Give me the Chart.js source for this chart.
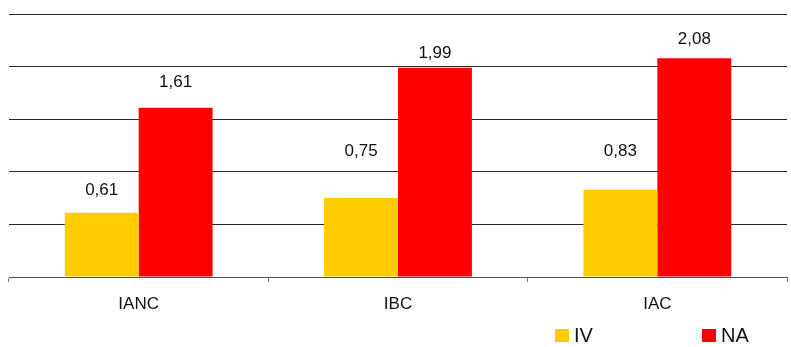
<!DOCTYPE html>
<html>
<head>
<meta charset="utf-8">
<script src="https://cdn.jsdelivr.net/npm/chart.js@4/dist/chart.umd.min.js"></script>
<style>
  html, body { margin: 0; padding: 0; background: #fff; }
  #wrap { position: relative; width: 791px; height: 347px; }
</style>
</head>
<body>
<div id="wrap"><canvas id="c" width="791" height="347"></canvas></div>
<script>
// Categories and series values
const categories = ['IANC', 'IBC', 'IAC'];
const seriesNames = ['IV', 'NA'];
const ivValues = [0.61, 0.75, 0.83];
const naValues = [1.61, 1.99, 2.08];
const valueLabels = [['0,61', '0,75', '0,83'], ['1,61', '1,99', '2,08']];

const COLORS = ['#FFCC00', '#FF0000'];
const FONT = 'Liberation Sans, Arial, sans-serif';

// Pixel lift of each value label above its bar top (hand-placed labels)
const labelLift = [[23, 47, 38], [25, 14, 19]];

const valueLabelPlugin = {
  id: 'valueLabels',
  afterDatasetsDraw(chart) {
    const ctx = chart.ctx;
    ctx.save();
    ctx.font = '17px ' + FONT;
    ctx.fillStyle = '#111';
    ctx.textAlign = 'center';
    ctx.textBaseline = 'middle';
    chart.data.datasets.forEach((ds, di) => {
      chart.getDatasetMeta(di).data.forEach((bar, i) => {
        ctx.fillText(valueLabels[di][i], bar.x, bar.y - labelLift[di][i]);
      });
    });
    ctx.restore();
  }
};

// Legend drawn at the lower right, one item per series
const legendPlugin = {
  id: 'sideLegend',
  afterDraw(chart) {
    const ctx = chart.ctx;
    const items = [{ x: 555 }, { x: 702 }];
    ctx.save();
    ctx.font = '20px ' + FONT;
    ctx.textBaseline = 'alphabetic';
    ctx.textAlign = 'left';
    items.forEach((it, i) => {
      ctx.fillStyle = COLORS[i];
      ctx.fillRect(it.x, 329, 14, 13);
      ctx.fillStyle = '#111';
      ctx.fillText(seriesNames[i], it.x + 19, 342);
    });
    ctx.restore();
  }
};

new Chart(document.getElementById('c'), {
  type: 'bar',
  data: {
    labels: categories,
    datasets: [
      { label: seriesNames[0], data: ivValues, backgroundColor: COLORS[0] },
      { label: seriesNames[1], data: naValues, backgroundColor: COLORS[1] }
    ]
  },
  options: {
    responsive: false,
    animation: false,
    devicePixelRatio: 1,
    layout: { padding: { left: 9, right: 4, top: 14, bottom: 0 } },
    datasets: { bar: { categoryPercentage: 0.57, barPercentage: 1.0 } },
    plugins: { legend: { display: false }, tooltip: { enabled: false } },
    scales: {
      x: {
        offset: true,
        grid: { offset: true, drawOnChartArea: false, tickLength: 5, color: '#777' },
        border: { display: true, color: '#555', width: 1 },
        ticks: { color: '#111', font: { family: FONT, size: 17 }, padding: 12 },
        afterFit(scale) { scale.height = 70; }
      },
      y: {
        min: 0,
        max: 2.5,
        ticks: { display: false, stepSize: 0.5 },
        grid: { color: '#2a2a2a', drawTicks: false },
        border: { display: false },
        afterFit(scale) { scale.width = 0; }
      }
    }
  },
  plugins: [valueLabelPlugin, legendPlugin]
});
</script>
</body>
</html>
